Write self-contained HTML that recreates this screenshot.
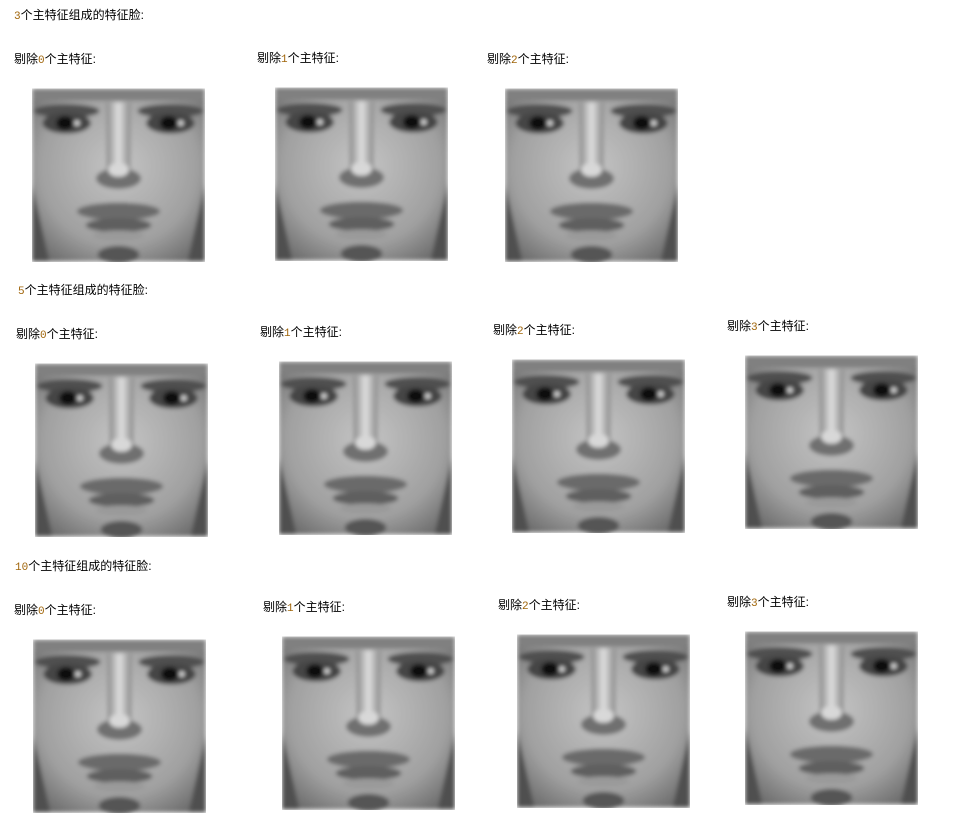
<!DOCTYPE html>
<html><head><meta charset="utf-8"><style>
body{margin:0;width:971px;height:822px;background:#fff;position:relative;overflow:hidden;font-family:"Liberation Sans","Noto Sans CJK SC",sans-serif;font-size:12px;color:#000}
.t{position:absolute;white-space:nowrap;line-height:14px}
.n{color:#a0650a;font-family:"Liberation Mono",monospace;font-size:11px}
svg.f{position:absolute;width:173px;height:174px}
</style></head><body>
<svg width="0" height="0" style="position:absolute">
<defs>
<filter id="bl" x="0" y="0" width="1" height="1"><feGaussianBlur stdDeviation="1.2"/></filter>
<radialGradient id="chk" cx="50%" cy="45%" r="65%"><stop offset="0" stop-color="#c4c4c4"/><stop offset=".7" stop-color="#a0a0a0"/><stop offset="1" stop-color="#707070"/></radialGradient>
<linearGradient id="nose" x1="0" x2="1"><stop offset="0" stop-color="#8a8a8a"/><stop offset=".5" stop-color="#e0e0e0"/><stop offset="1" stop-color="#8a8a8a"/></linearGradient>
<symbol id="face" viewBox="0 0 100 100">
<g filter="url(#bl)">
<rect width="100" height="100" fill="url(#chk)"/>
<rect x="0" y="0" width="100" height="7" fill="#808080"/>
<ellipse cx="20" cy="13" rx="19" ry="4" fill="#505050"/>
<ellipse cx="80" cy="13" rx="19" ry="4" fill="#505050"/>
<ellipse cx="20" cy="20" rx="14" ry="6" fill="#454545"/>
<ellipse cx="80" cy="20" rx="14" ry="6" fill="#454545"/>
<ellipse cx="19" cy="20" rx="5" ry="4" fill="#111"/>
<ellipse cx="79" cy="20" rx="5" ry="4" fill="#111"/>
<circle cx="26" cy="20" r="1.6" fill="#ddd"/>
<circle cx="86" cy="20" r="1.6" fill="#ddd"/>
<rect x="43" y="8" width="14" height="42" fill="url(#nose)"/>
<ellipse cx="50" cy="52" rx="13" ry="6" fill="#707070"/>
<ellipse cx="50" cy="47" rx="6" ry="4" fill="#d8d8d8"/>
<ellipse cx="50" cy="71" rx="24" ry="5" fill="#6a6a6a"/>
<ellipse cx="50" cy="79" rx="19" ry="4" fill="#5e5e5e"/>
<ellipse cx="50" cy="85" rx="15" ry="3" fill="#9a9a9a"/>
<ellipse cx="50" cy="96" rx="12" ry="5" fill="#555"/>
<path d="M0 55 L10 100 L0 100Z M100 55 L90 100 L100 100Z" fill="#505050"/>
</g>
</symbol>
</defs></svg>

<div class="t" style="left:14px;top:8px"><span class="n">3</span>个主特征组成的特征脸:</div>
<div class="t" style="left:14px;top:52px">剔除<span class="n">0</span>个主特征:</div>
<div class="t" style="left:257px;top:51px">剔除<span class="n">1</span>个主特征:</div>
<div class="t" style="left:487px;top:52px">剔除<span class="n">2</span>个主特征:</div>
<svg class="f" style="left:32px;top:88px"><use href="#face" width="173" height="174"/></svg>
<svg class="f" style="left:275px;top:87px"><use href="#face" width="173" height="174"/></svg>
<svg class="f" style="left:505px;top:88px"><use href="#face" width="173" height="174"/></svg>

<div class="t" style="left:18px;top:283px"><span class="n">5</span>个主特征组成的特征脸:</div>
<div class="t" style="left:16px;top:327px">剔除<span class="n">0</span>个主特征:</div>
<div class="t" style="left:260px;top:325px">剔除<span class="n">1</span>个主特征:</div>
<div class="t" style="left:493px;top:323px">剔除<span class="n">2</span>个主特征:</div>
<div class="t" style="left:727px;top:319px">剔除<span class="n">3</span>个主特征:</div>
<svg class="f" style="left:35px;top:363px"><use href="#face" width="173" height="174"/></svg>
<svg class="f" style="left:279px;top:361px"><use href="#face" width="173" height="174"/></svg>
<svg class="f" style="left:512px;top:359px"><use href="#face" width="173" height="174"/></svg>
<svg class="f" style="left:745px;top:355px"><use href="#face" width="173" height="174"/></svg>

<div class="t" style="left:15px;top:559px"><span class="n">10</span>个主特征组成的特征脸:</div>
<div class="t" style="left:14px;top:603px">剔除<span class="n">0</span>个主特征:</div>
<div class="t" style="left:263px;top:600px">剔除<span class="n">1</span>个主特征:</div>
<div class="t" style="left:498px;top:598px">剔除<span class="n">2</span>个主特征:</div>
<div class="t" style="left:727px;top:595px">剔除<span class="n">3</span>个主特征:</div>
<svg class="f" style="left:33px;top:639px"><use href="#face" width="173" height="174"/></svg>
<svg class="f" style="left:282px;top:636px"><use href="#face" width="173" height="174"/></svg>
<svg class="f" style="left:517px;top:634px"><use href="#face" width="173" height="174"/></svg>
<svg class="f" style="left:745px;top:631px"><use href="#face" width="173" height="174"/></svg>
</body></html>
